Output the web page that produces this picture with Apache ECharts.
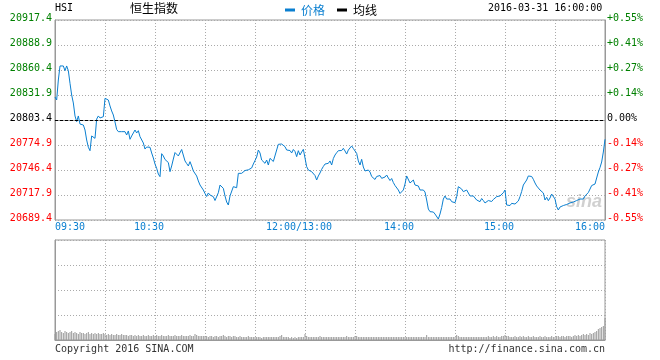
<!DOCTYPE html>
<html><head><meta charset="utf-8">
<script src="https://cdn.jsdelivr.net/npm/echarts@6/dist/echarts.min.js"></script>
<style>html,body{margin:0;padding:0;background:#fff}#c{width:660px;height:360px}</style>
</head><body><div id="c"></div>
<script>
// ---- data ----
const prevClose = 20803.4;
const timeTickMinutes = [0, 60, 150, 210, 270, 330];
const timeTickLabels = ['09:30', '10:30', '12:00/13:00', '14:00', '15:00', '16:00'];
// one price per trading minute, 09:30 .. 16:00 (lunch break removed)
const prices = [
20829.6,20826.2,20849.0,20865.0,20863.8,20865.0,20859.6,20865.0,20859.6,20845.2,
20831.9,20822.8,20808.0,20801.5,20808.0,20798.8,20796.9,20797.7,20792.0,20780.6,
20772.3,20768.4,20785.2,20786.3,20782.5,20804.5,20808.0,20805.7,20804.5,20807.2,
20828.1,20828.1,20826.2,20819.4,20813.7,20809.1,20801.1,20792.6,20790.1,20789.1,
20790.1,20788.2,20790.1,20786.3,20790.9,20781.4,20785.2,20788.6,20792.0,20788.6,
20791.2,20784.4,20782.5,20777.2,20770.3,20772.6,20774.1,20772.3,20765.8,20760.1,
20753.2,20748.3,20741.8,20738.8,20765.0,20762.4,20758.4,20757.8,20754.9,20744.5,
20751.0,20758.9,20766.3,20766.9,20762.4,20760.6,20769.8,20772.0,20756.7,20753.8,
20751.0,20755.9,20751.0,20745.3,20743.5,20739.6,20733.9,20729.3,20727.4,20723.6,
20719.6,20716.2,20720.2,20717.9,20716.8,20716.0,20711.6,20709.9,20720.5,20729.3,
20727.6,20725.5,20716.8,20709.9,20706.5,20716.8,20715.3,20727.4,20726.4,20726.2,
20742.6,20742.6,20742.6,20743.5,20745.8,20747.2,20746.6,20747.2,20748.7,20753.2,
20757.2,20761.2,20769.2,20765.8,20757.8,20755.9,20754.0,20757.8,20752.1,20759.7,
20758.9,20756.1,20754.7,20769.2,20775.7,20774.9,20776.0,20777.5,20773.0,20769.2,
20769.8,20768.6,20765.8,20769.8,20767.5,20761.6,20768.4,20763.5,20766.9,20770.0,
20768.1,20750.2,20746.4,20747.0,20744.5,20743.0,20740.1,20735.0,20739.6,20743.0,
20747.2,20750.4,20753.2,20751.0,20754.0,20756.7,20752.1,20759.5,20763.5,20766.1,
20768.4,20769.8,20768.6,20771.1,20768.1,20764.6,20769.2,20769.2,20773.8,20770.9,
20772.0,20765.4,20756.7,20752.1,20758.6,20749.8,20745.3,20743.5,20746.4,20744.1,
20739.0,20736.9,20735.6,20739.0,20739.6,20740.1,20736.9,20736.9,20738.4,20740.7,
20737.3,20734.4,20736.7,20732.1,20728.7,20727.6,20723.6,20719.6,20719.0,20723.6,
20730.4,20739.6,20741.8,20731.6,20731.6,20735.0,20729.3,20731.2,20728.2,20723.6,
20724.2,20723.6,20721.3,20712.2,20701.9,20698.9,20698.9,20698.5,20696.2,20694.0,
20690.5,20696.2,20703.6,20713.3,20716.8,20713.3,20714.8,20713.3,20710.3,20710.3,
20709.1,20716.0,20727.4,20726.4,20724.7,20721.7,20723.6,20723.6,20722.5,20716.8,
20719.0,20716.8,20717.3,20712.2,20713.3,20710.3,20713.9,20711.6,20708.8,20710.5,
20711.6,20711.6,20710.5,20712.8,20713.3,20716.0,20715.3,20716.8,20715.6,20720.5,
20723.6,20706.5,20705.4,20705.9,20708.4,20708.4,20707.6,20705.4,20711.1,20716.0,
20721.9,20729.3,20729.9,20735.0,20739.6,20740.1,20739.0,20735.8,20731.6,20728.2,
20725.9,20723.6,20723.0,20720.2,20712.2,20715.3,20711.4,20714.5,20719.0,20717.9,
20713.3,20704.6,20700.8,20704.2,20705.4,20705.9,20705.4,20707.1,20707.1,20708.8,
20708.8,20709.9,20709.3,20711.6,20711.1,20713.3,20715.0,20713.3,20716.8,20719.0,
20720.7,20724.7,20728.7,20729.3,20730.4,20737.3,20744.1,20749.2,20755.5,20766.9,
20781.4
];
// volume per minute (relative units)
const volumes = [
6,8,9,10,8,7,9,8,7,8, 9,7,8,7,6,8,7,7,6,7, 8,6,7,6,7,6,7,6,6,7,
6,5,6,5,6,5,5,6,5,5, 6,5,5,5,4,5,5,4,5,4, 5,4,4,5,4,4,5,4,4,5,
4,5,4,4,5,4,4,4,5,4, 4,4,5,4,4,4,5,4,4,4, 4,5,4,4,6,5,4,4,4,4,
4,4,3,4,4,3,4,4,3,4, 4,5,4,3,4,4,3,4,4,3, 3,4,3,3,3,3,4,3,3,3,
3,3,3,3,2,3,3,3,3,3, 3,3,3,3,3,4,5,3,3,3, 3,2,3,2,3,2,3,3,3,3,
6,4,3,3,3,3,3,3,3,4, 3,3,3,3,3,3,3,3,3,3, 3,3,3,3,3,4,3,3,3,3,
4,4,3,3,3,3,3,3,3,3, 3,3,3,3,3,3,3,3,3,3, 3,3,3,3,3,3,3,3,3,3,
3,3,3,3,3,3,3,3,3,3, 3,3,3,5,3,3,3,3,3,3, 3,3,3,3,3,3,3,3,3,3,
3,5,4,3,3,3,3,3,3,3, 3,3,3,3,3,3,3,3,3,3, 4,3,3,4,3,4,3,3,4,4,
5,4,4,3,3,3,4,3,3,4, 3,4,3,3,4,3,3,4,3,3, 3,4,3,3,4,3,3,3,4,3,
3,4,4,3,4,4,3,4,4,4, 3,4,5,4,5,4,5,6,5,6, 5,7,6,7,8,9,11,12,13,14, 22
];

// ---- chart ----
const MONO = '"DejaVu Sans Mono", monospace';
const CJK = '"Noto Sans CJK SC", sans-serif';
const BLUE = '#0a7fd0';
const GREEN = '#008000';
const RED = '#ff0000';
const GRID_LINE = { show: true, lineStyle: { color: '#aaa', type: [1, 2], width: 1 } };
const AXIS_LINE = { show: true, lineStyle: { color: '#999', width: 1 } };

const priceData = prices.map((p, i) => [i, Math.round((p - prevClose) * 10) / 10]);
const volData = volumes.map((v, i) => [i, v]);
const halfRange = 114, step = 28.5;

const chart = echarts.init(document.getElementById('c'), null, { renderer: 'canvas' });
chart.setOption({
  animation: false,
  backgroundColor: '#fff',
  title: [
    { text: 'HSI', left: 55, top: 3, padding: 0, textStyle: { fontFamily: MONO, fontSize: 10, fontWeight: 'normal', color: '#000' } },
    { text: '恒生指数', left: 130, top: 2, padding: 0, textStyle: { fontFamily: CJK, fontSize: 12, fontWeight: 'normal', color: '#000' } },
    { text: '2016-03-31 16:00:00', left: 488, top: 3, padding: 0, textStyle: { fontFamily: MONO, fontSize: 10, fontWeight: 'normal', color: '#000' } },
    { text: 'Copyright 2016 SINA.COM', left: 55, top: 344, padding: 0, textStyle: { fontFamily: MONO, fontSize: 10, fontWeight: 'normal', color: '#333' } },
    { text: 'http://finance.sina.com.cn', right: 55, top: 344, padding: 0, textStyle: { fontFamily: MONO, fontSize: 10, fontWeight: 'normal', color: '#333' } }
  ],
  legend: {
    left: 285, top: 4, padding: 0, itemGap: 12, itemWidth: 10, itemHeight: 3, icon: 'rect',
    selectedMode: false,
    textStyle: { fontFamily: CJK, fontSize: 12, padding: [0, 0, 0, 1] },
    data: [
      { name: '价格', textStyle: { color: BLUE } },
      { name: '均线', textStyle: { color: '#000' } }
    ]
  },
  graphic: [
    { type: 'text', left: 566, top: 193, z: 0, silent: true,
      style: { text: 'sina', font: 'italic bold 18px "Liberation Sans", Arial', fill: 'rgba(150,150,150,0.45)' } }
  ],
  grid: [
    { left: 55, top: 20, width: 550, height: 200, show: true, borderColor: '#999', borderWidth: 1, outerBoundsMode: 'none' },
    { left: 55, top: 240, width: 550, height: 100, show: true, borderColor: '#999', borderWidth: 1, outerBoundsMode: 'none' }
  ],
  xAxis: [
    {
      type: 'value', gridIndex: 0, min: 0, max: 330, interval: 30,
      axisLine: AXIS_LINE, axisTick: { show: false }, splitLine: GRID_LINE,
      axisLabel: {
        show: true, margin: 2, showMinLabel: true, showMaxLabel: true,
        fontFamily: MONO, fontSize: 10, color: BLUE,
        formatter: function (v) {
          const k = timeTickMinutes.indexOf(Math.round(v));
          if (k < 0) return '';
          const style = k === 0 ? 'l' : (k === timeTickMinutes.length - 1 ? 'r' : 'c');
          return '{' + style + '|' + timeTickLabels[k] + '}';
        },
        rich: {
          l: { fontFamily: MONO, fontSize: 10, color: BLUE, padding: [0, 0, 0, 30] },
          c: { fontFamily: MONO, fontSize: 10, color: BLUE, padding: [0, 12, 0, 0] },
          r: { fontFamily: MONO, fontSize: 10, color: BLUE, padding: [0, 30, 0, 0] }
        }
      }
    },
    {
      type: 'value', gridIndex: 1, min: 0, max: 330, interval: 30,
      axisLine: AXIS_LINE, axisTick: { show: false }, splitLine: GRID_LINE, axisLabel: { show: false }
    }
  ],
  yAxis: [
    {
      type: 'value', gridIndex: 0, position: 'left', min: -halfRange, max: halfRange, interval: step,
      axisLine: AXIS_LINE, axisTick: { show: false }, splitLine: GRID_LINE,
      axisLabel: {
        margin: 3, fontFamily: MONO, fontSize: 10,
        formatter: function (v) {
          const s = (v + prevClose).toFixed(1);
          const st = v > 0.01 ? 'g' : (v < -0.01 ? 'r' : 'k');
          return '{' + st + '|' + s + '}';
        },
        rich: {
          g: { fontFamily: MONO, fontSize: 10, color: GREEN, padding: [0, 0, 4, 0] },
          r: { fontFamily: MONO, fontSize: 10, color: RED, padding: [0, 0, 4, 0] },
          k: { fontFamily: MONO, fontSize: 10, color: '#000', padding: [0, 0, 4, 0] }
        }
      }
    },
    {
      type: 'value', gridIndex: 0, position: 'right', min: -halfRange, max: halfRange, interval: step,
      axisLine: AXIS_LINE, axisTick: { show: false }, splitLine: { show: false },
      axisLabel: {
        margin: 2, fontFamily: MONO, fontSize: 10,
        formatter: function (v) {
          const p = v / prevClose * 100;
          if (v > 0.01) return '{g|+' + p.toFixed(2) + '%}';
          if (v < -0.01) return '{r|' + p.toFixed(2) + '%}';
          return '{k|0.00%}';
        },
        rich: {
          g: { fontFamily: MONO, fontSize: 10, color: GREEN, padding: [0, 0, 4, 0] },
          r: { fontFamily: MONO, fontSize: 10, color: RED, padding: [0, 0, 4, 0] },
          k: { fontFamily: MONO, fontSize: 10, color: '#000', padding: [0, 0, 4, 0] }
        }
      }
    },
    {
      type: 'value', gridIndex: 1, min: 0, max: 100, interval: 25,
      axisLine: AXIS_LINE, axisTick: { show: false }, splitLine: GRID_LINE, axisLabel: { show: false }
    }
  ],
  series: [
    {
      name: '价格', type: 'line', xAxisIndex: 0, yAxisIndex: 0, data: priceData,
      showSymbol: false, symbol: 'none', z: 3,
      lineStyle: { color: BLUE, width: 1 }, itemStyle: { color: BLUE },
      markLine: {
        silent: true, symbol: ['none', 'none'], label: { show: false },
        lineStyle: { color: '#000', type: [3, 2], width: 1 },
        data: [{ yAxis: 0 }]
      }
    },
    {
      name: '均线', type: 'line', xAxisIndex: 0, yAxisIndex: 0, data: [],
      showSymbol: false, lineStyle: { color: '#000', width: 1 }, itemStyle: { color: '#000' }
    },
    {
      name: '成交量', type: 'bar', xAxisIndex: 1, yAxisIndex: 2, data: volData,
      barWidth: 1, itemStyle: { color: '#999' }
    }
  ]
});
</script>
</body></html>
